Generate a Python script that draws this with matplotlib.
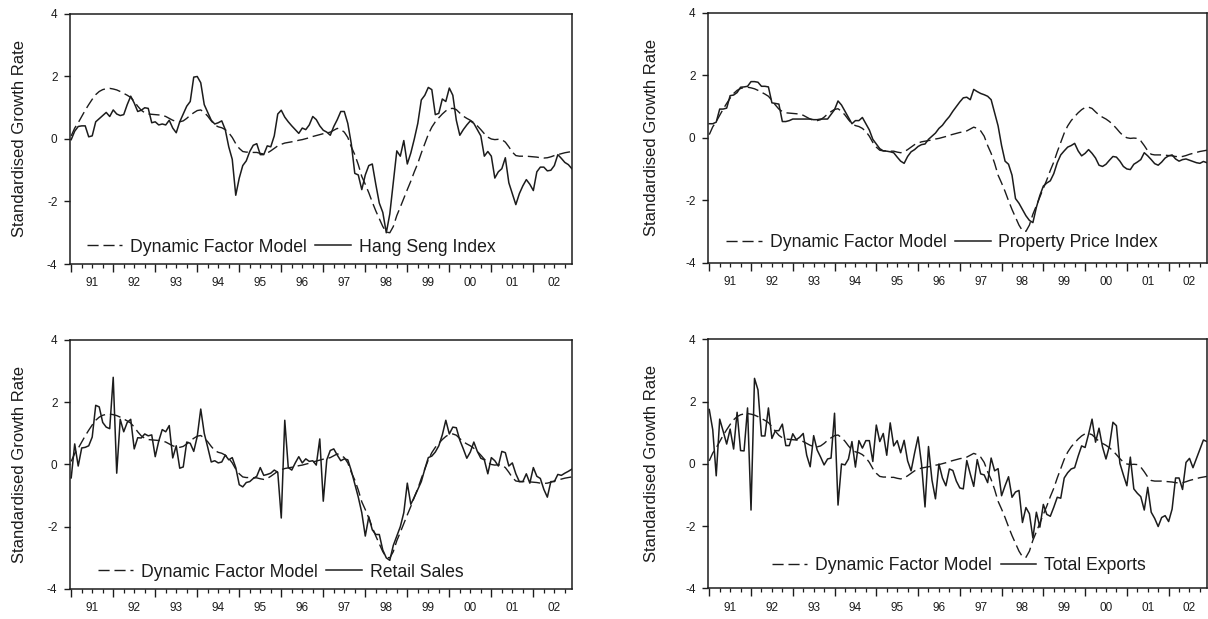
import numpy as np
import matplotlib.pyplot as plt
from matplotlib.ticker import FixedLocator, FixedFormatter

plt.rcParams['font.family'] = ['Liberation Sans', 'DejaVu Sans']
plt.rcParams['axes.unicode_minus'] = False

# Monthly data, Jan 1991 - Dec 2002 (one row per year)
dfm = [
    0.10, 0.35, 0.52, 0.72, 0.92, 1.10, 1.27, 1.42, 1.52, 1.58, 1.61, 1.62,
    1.60, 1.57, 1.52, 1.46, 1.40, 1.33, 1.20, 1.05, 0.92, 0.84, 0.80, 0.79,
    0.78, 0.77, 0.76, 0.72, 0.66, 0.60, 0.56, 0.55, 0.58, 0.66, 0.76, 0.84,
    0.91, 0.93, 0.85, 0.73, 0.58, 0.45, 0.39, 0.36, 0.30, 0.20, 0.05, -0.15,
    -0.30, -0.40, -0.42, -0.42, -0.43, -0.43, -0.46, -0.48, -0.45, -0.38, -0.30, -0.22,
    -0.17, -0.13, -0.11, -0.09, -0.07, -0.04, -0.02, 0.01, 0.04, 0.08, 0.11, 0.14,
    0.17, 0.19, 0.22, 0.28, 0.34, 0.30, 0.22, 0.05, -0.25, -0.50, -0.82, -1.20,
    -1.45, -1.72, -2.02, -2.30, -2.55, -2.80, -2.98, -3.00, -2.80, -2.45, -2.18, -1.90,
    -1.62, -1.35, -1.05, -0.78, -0.45, -0.15, 0.15, 0.38, 0.55, 0.68, 0.80, 0.90,
    0.97, 0.98, 0.94, 0.83, 0.73, 0.66, 0.60, 0.52, 0.42, 0.30, 0.17, 0.06,
    0.00, -0.02, -0.01, -0.02, -0.10, -0.25, -0.42, -0.53, -0.55, -0.55, -0.55, -0.56,
    -0.57, -0.58, -0.60, -0.61, -0.60, -0.57, -0.53, -0.50, -0.47, -0.44, -0.42, -0.40,
]

hang_seng = [
    -0.02, 0.25, 0.40, 0.42, 0.42, 0.07, 0.10, 0.55, 0.65, 0.75, 0.85, 0.72,
    0.93, 0.80, 0.75, 0.78, 1.10, 1.37, 1.15, 0.88, 0.92, 1.00, 0.98, 0.52,
    0.55, 0.45, 0.48, 0.45, 0.60, 0.35, 0.20, 0.55, 0.80, 1.05, 1.20, 1.98,
    2.00, 1.80, 1.10, 0.85, 0.60, 0.48, 0.52, 0.58, 0.30, -0.25, -0.65, -1.80,
    -1.25, -0.85, -0.70, -0.40, -0.20, -0.15, -0.50, -0.50, -0.22, -0.25, 0.10, 0.80,
    0.92, 0.70, 0.55, 0.42, 0.30, 0.18, 0.35, 0.30, 0.45, 0.72, 0.62, 0.42,
    0.28, 0.22, 0.12, 0.40, 0.62, 0.88, 0.88, 0.50, -0.15, -1.10, -1.15, -1.62,
    -1.15, -0.85, -0.80, -1.45, -2.05, -2.35, -3.00, -2.40, -1.40, -0.38, -0.55, -0.05,
    -0.80, -0.45, 0.00, 0.50, 1.25, 1.40, 1.65, 1.58, 0.78, 0.82, 1.28, 1.20,
    1.63, 1.40, 0.60, 0.12, 0.30, 0.45, 0.58, 0.50, 0.30, 0.10, -0.55, -0.40,
    -0.55, -1.25, -1.05, -0.95, -0.60, -1.40, -1.75, -2.10, -1.75, -1.50, -1.30, -1.45,
    -1.65, -1.05, -0.90, -0.90, -1.02, -1.00, -0.85, -0.50, -0.62, -0.75, -0.82, -0.95,
]

property_price = [
    0.45, 0.45, 0.50, 0.92, 0.92, 0.95, 1.35, 1.37, 1.45, 1.62, 1.63, 1.65,
    1.80, 1.80, 1.78, 1.65, 1.65, 1.63, 1.12, 1.10, 1.08, 0.52, 0.52, 0.55,
    0.60, 0.60, 0.60, 0.60, 0.60, 0.60, 0.58, 0.58, 0.60, 0.60, 0.60, 0.75,
    0.90, 1.18, 1.05, 0.85, 0.65, 0.45, 0.55, 0.55, 0.65, 0.45, 0.25, -0.05,
    -0.20, -0.35, -0.42, -0.43, -0.45, -0.48, -0.62, -0.75, -0.82, -0.60, -0.45, -0.38,
    -0.28, -0.22, -0.20, -0.05, 0.05, 0.15, 0.30, 0.40, 0.55, 0.68, 0.85, 1.00,
    1.15, 1.28, 1.30, 1.22, 1.55, 1.48, 1.42, 1.38, 1.33, 1.22, 0.80, 0.38,
    -0.25, -0.75, -0.85, -1.20, -1.95, -2.10, -2.30, -2.50, -2.65, -2.72, -2.23, -1.85,
    -1.55, -1.45, -1.38, -1.15, -0.80, -0.55, -0.42, -0.30, -0.25, -0.18, -0.42, -0.58,
    -0.50, -0.38, -0.50, -0.65, -0.88, -0.92, -0.85, -0.72, -0.60, -0.62, -0.75, -0.92,
    -1.00, -1.02, -0.85, -0.78, -0.70, -0.48, -0.58, -0.70, -0.83, -0.88, -0.78, -0.65,
    -0.58, -0.55, -0.68, -0.75, -0.70, -0.68, -0.72, -0.76, -0.80, -0.82, -0.76, -0.80,
]

retail_sales = [
    -0.43, 0.66, -0.05, 0.53, 0.55, 0.60, 0.88, 1.90, 1.85, 1.35, 1.20, 1.15,
    2.80, -0.28, 1.45, 1.05, 1.35, 1.45, 0.50, 0.86, 0.85, 0.98, 0.92, 0.95,
    0.25, 0.75, 1.12, 1.05, 1.25, 0.21, 0.60, -0.12, -0.08, 0.72, 0.68, 0.42,
    0.90, 1.78, 1.00, 0.55, 0.08, 0.12, 0.05, 0.08, 0.30, 0.15, 0.22, -0.10,
    -0.65, -0.72, -0.58, -0.55, -0.45, -0.38, -0.10, -0.35, -0.32, -0.28, -0.18, -0.25,
    -1.72, 1.42, -0.10, -0.18, 0.05, 0.25, 0.05, 0.18, 0.10, 0.12, -0.02, 0.82,
    -1.18, 0.15, 0.45, 0.50, 0.30, 0.12, 0.18, 0.15, -0.20, -0.62, -1.05, -1.55,
    -2.30, -1.68, -2.10, -2.25, -2.25, -2.75, -3.00, -3.08, -2.60, -2.30, -2.00, -1.55,
    -0.60, -1.28, -1.05, -0.80, -0.55, -0.15, 0.22, 0.27, 0.40, 0.60, 0.95, 1.42,
    0.98, 1.20, 1.18, 0.78, 0.50, 0.20, 0.40, 0.72, 0.42, 0.20, 0.15, -0.30,
    0.22, 0.12, -0.05, 0.42, 0.38, -0.05, 0.05, -0.30, -0.55, -0.55, -0.30, -0.60,
    -0.10, -0.38, -0.45, -0.80, -1.05, -0.55, -0.55, -0.32, -0.35, -0.28, -0.22, -0.15,
]

total_exports = [
    1.75, 1.10, -0.38, 1.44, 1.05, 0.64, 1.12, 0.48, 1.66, 0.43, 0.42, 1.80,
    -1.48, 2.75, 2.38, 0.90, 0.90, 1.80, 0.82, 1.07, 1.07, 1.28, 0.59, 0.59,
    0.97, 0.78, 0.86, 0.98, 0.28, -0.09, 0.91, 0.45, 0.22, -0.03, 0.16, 0.19,
    1.63, -1.32, 0.00, -0.03, 0.16, 0.72, -0.10, 0.75, 0.51, 0.75, 0.75, 0.08,
    1.25, 0.72, 0.98, 0.28, 1.32, 0.58, 0.75, 0.36, 0.76, 0.10, -0.22, 0.35,
    0.87, 0.00, -1.38, 0.56, -0.52, -1.12, 0.00, -0.45, -0.70, -0.16, -0.21, -0.55,
    -0.77, -0.80, 0.11, -0.32, -0.72, 0.14, -0.32, -0.35, -0.60, 0.19, -0.22, -0.15,
    -1.02, -0.70, -0.41, -1.07, -0.90, -0.85, -1.88, -1.40, -1.60, -2.38, -1.55, -2.03,
    -1.30, -1.62, -1.68, -1.39, -1.07, -1.10, -0.45, -0.28, -0.16, -0.12, 0.25, 0.58,
    0.53, 0.96, 1.44, 0.70, 1.15, 0.55, 0.16, 0.58, 1.34, 1.23, 0.02, -0.35,
    -0.70, 0.22, -0.80, -0.94, -1.05, -1.48, -0.75, -1.55, -1.75, -2.01, -1.72, -1.66,
    -1.85, -1.45, -0.45, -0.45, -0.82, 0.05, 0.18, -0.12, 0.18, 0.48, 0.77, 0.72,
]

years = np.arange(1991, 2003)
year_labels = ['91', '92', '93', '94', '95', '96', '97', '98', '99', '00', '01', '02']
t = 1991 + np.arange(len(dfm)) / 12.0

ink = '#1c1c1c'

# (series, legend name, axes rect, legend anchor, ylabel x)
panels = [
    (hang_seng, 'Hang Seng Index', [0.0579, 0.5735, 0.4156, 0.4039], (0.033, 0.068), -0.086),
    (property_price, 'Property Price Index', [0.5861, 0.5759, 0.4131, 0.4031], (0.037, 0.080), -0.098),
    (retail_sales, 'Retail Sales', [0.0579, 0.0485, 0.4156, 0.4023], (0.055, 0.068), -0.086),
    (total_exports, 'Total Exports', [0.5861, 0.0493, 0.4131, 0.4023], (0.128, 0.093), -0.098),
]

fig = plt.figure(figsize=(12.08, 6.19), dpi=100)

for series, name, rect, anchor, ylab_x in panels:
    ax = fig.add_axes(rect)
    l1, = ax.plot(t, dfm, color=ink, lw=1.0, dashes=(8, 3.5), label='Dynamic Factor Model')
    l2, = ax.plot(t, series, color=ink, lw=1.1, label=name)

    ax.set_xlim(1990.97, 2002.92)
    ax.set_ylim(-4, 4)
    ax.set_yticks([-4, -2, 0, 2, 4])

    # major ticks at year starts, minor at quarters, year label in mid-year
    ax.xaxis.set_major_locator(FixedLocator(years))
    ax.xaxis.set_major_formatter(FixedFormatter([''] * len(years)))
    q_pos = []
    q_lab = []
    for y, lab in zip(years, year_labels):
        q_pos += [y + 0.25, y + 0.5, y + 0.75]
        q_lab += ['', lab, '']
    ax.xaxis.set_minor_locator(FixedLocator(q_pos))
    ax.xaxis.set_minor_formatter(FixedFormatter(q_lab))

    ax.tick_params(axis='x', which='major', direction='out', length=6, width=1.0, color=ink)
    ax.tick_params(axis='x', which='minor', direction='out', length=3, width=0.9,
                   color=ink, labelsize=8.5, labelcolor=ink, pad=6.5)
    ax.tick_params(axis='y', direction='out', length=4, width=1.0, color=ink,
                   labelsize=8.5, labelcolor=ink, pad=5)

    for s in ax.spines.values():
        s.set_color(ink)
        s.set_linewidth(1.1)

    ax.set_ylabel('Standardised Growth Rate', fontsize=12, color=ink)
    ax.yaxis.set_label_coords(ylab_x, 0.5)

    leg = ax.legend(handles=[l1, l2], loc='center left', bbox_to_anchor=anchor,
                    ncol=2, frameon=False, fontsize=12.7, handlelength=2.0,
                    handletextpad=0.45, columnspacing=0.5, borderpad=0,
                    borderaxespad=0)
    for txt in leg.get_texts():
        txt.set_color(ink)

fig.savefig('out.png', dpi=100)
